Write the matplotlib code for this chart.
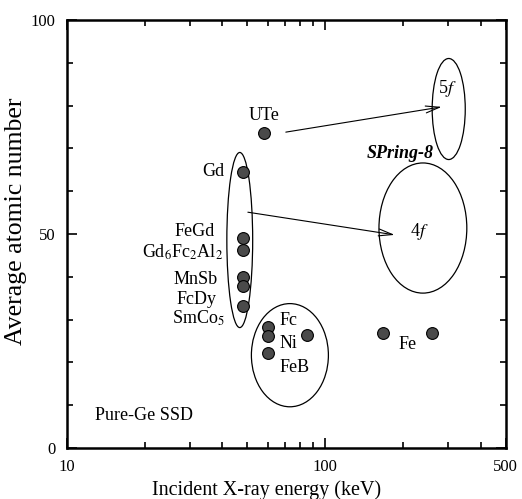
import numpy as np
import matplotlib
matplotlib.use('Agg')
import matplotlib.pyplot as plt
from matplotlib.patches import Ellipse
from matplotlib.ticker import FixedLocator, NullFormatter

plt.rcParams['font.family'] = ['Liberation Serif', 'DejaVu Serif']
plt.rcParams['mathtext.fontset'] = 'stix'

# measured points (energy keV, average atomic number)
energy = [57.8, 47.9, 47.9, 47.9, 47.9, 47.9, 47.9, 59.9, 59.9, 84.9, 59.9, 167, 259]
atomic = [73.6, 64.5, 49.1, 46.3, 40.0, 37.9, 33.2, 28.3, 26.2, 26.4, 22.2, 26.8, 26.8]

# sample labels: text, x, y, horizontal alignment
label_text = ['UTe', 'Gd', 'FeGd', r'Gd$_6$Fc$_2$Al$_2$', 'MnSb', 'FcDy', r'SmCo$_5$',
              'Fc', 'Ni', 'FeB', 'Fe']
label_x = [57.8, 40.8, 37.4, 40.2, 38.4, 37.8, 40.8, 66.7, 66.7, 66.7, 209]
label_y = [77.6, 64.5, 50.5, 45.8, 39.3, 34.6, 30.4, 29.9, 24.5, 18.9, 24.3]
label_ha = ['center', 'right', 'right', 'right', 'right', 'right', 'right',
            'left', 'left', 'left', 'center']

# groups: center x, center y, width (decades), height
ell_x = [46.7, 73.0, 300.6, 238.8]
ell_y = [48.6, 21.7, 79.2, 51.4]
ell_w = [0.10, 0.298, 0.128, 0.34]
ell_h = [40.9, 24.1, 23.6, 30.4]

# arrows (start -> end)
arr_x0 = [70.4, 50.2]
arr_y0 = [73.8, 55.1]
arr_x1 = [282.5, 185.8]
arr_y1 = [79.7, 49.8]

xmin, xmax = 10, 500

fig = plt.figure(figsize=(5.22, 4.99), dpi=100)
ax = fig.add_axes([0.128, 0.102, 0.841, 0.858])
ax.set_xscale('log')
ax.set_xlim(xmin, xmax)
ax.set_ylim(0, 100)

ax.plot(energy, atomic, 'o', ms=8.5, mfc='#4a4a4a', mec='black', mew=0.8, zorder=3)

for t, x, y, ha in zip(label_text, label_x, label_y, label_ha):
    ax.text(x, y, t, ha=ha, va='center', fontsize=13)

span = np.log10(xmax / xmin)
for x, y, w, h in zip(ell_x, ell_y, ell_w, ell_h):
    fx = np.log10(x / xmin) / span
    e = Ellipse((fx, y / 100), w / span, h / 100, transform=ax.transAxes,
                fill=False, ec='black', lw=0.9)
    ax.add_patch(e)

for x0, y0, x1, y1 in zip(arr_x0, arr_y0, arr_x1, arr_y1):
    ax.annotate('', xy=(x1, y1), xytext=(x0, y0),
                arrowprops=dict(arrowstyle='->,head_length=1.0,head_width=0.25',
                                lw=0.8, color='black', shrinkA=0, shrinkB=0))

ax.text(295.7, 84.1, r'5$\mathit{f}$', ha='center', va='center', fontsize=13)
ax.text(232, 50.5, r'4$\mathit{f}$', ha='center', va='center', fontsize=13)
ax.text(194.5, 68.9, 'SPring-8', ha='center', va='center', fontsize=13,
        fontweight='bold', fontstyle='italic')
ax.text(12.8, 7.5, 'Pure-Ge SSD', ha='left', va='center', fontsize=13)

ax.xaxis.set_major_locator(FixedLocator([10, 100, 500]))
ax.set_xticklabels(['10', '100', '500'])
ax.xaxis.set_minor_locator(FixedLocator([20, 30, 40, 50, 60, 70, 80, 90, 200, 300, 400]))
ax.xaxis.set_minor_formatter(NullFormatter())
ax.set_yticks([0, 50, 100])
ax.set_yticks(range(10, 100, 10), minor=True)

ax.tick_params(which='both', direction='in', top=True, right=True, labelsize=12, width=1.2)
ax.tick_params(which='major', length=7, pad=8)
ax.tick_params(which='minor', length=4)
for s in ax.spines.values():
    s.set_linewidth(1.8)

ax.set_xlabel('Incident X-ray energy (keV)', fontsize=14.5)
ax.set_ylabel('Average atomic number', fontsize=18.5)
ax.xaxis.set_label_coords(0.454, -0.075)
ax.yaxis.set_label_coords(-0.09, 0.53)

fig.savefig('out.png', dpi=100)
